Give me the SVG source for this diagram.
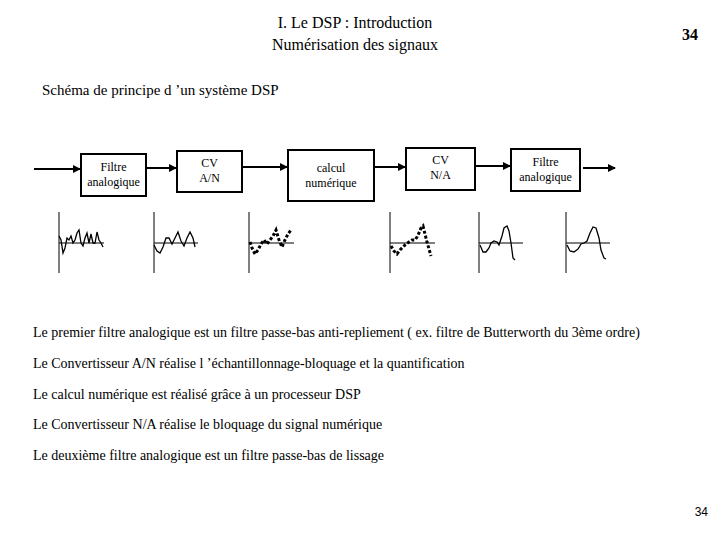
<svg xmlns="http://www.w3.org/2000/svg" width="720" height="540" viewBox="0 0 720 540">
<style>
.t{font-family:"Liberation Serif",serif;fill:#000}
.box{fill:#fff;stroke:#000;stroke-width:2}
.c{stroke:#000;stroke-width:2;fill:none}
.ax{stroke:#000;stroke-width:1;fill:none}
.w{stroke:#000;stroke-width:1.3;fill:none}
.wd{stroke:#000;stroke-width:3;fill:none;stroke-dasharray:3 2}
</style>
<defs><marker id="a" markerWidth="8" markerHeight="8" refX="7" refY="4" orient="auto" markerUnits="userSpaceOnUse"><path d="M0,0 L8,4 L0,8z" fill="#000"/></marker></defs>
<text class="t" x="355" y="28" font-size="16" text-anchor="middle">I. Le DSP : Introduction</text>
<text class="t" x="355" y="50" font-size="16" text-anchor="middle">Numérisation des signaux</text>
<text class="t" x="690" y="40" font-size="16" font-weight="bold" text-anchor="middle">34</text>
<text class="t" x="42" y="95" font-size="15">Schéma de principe d ’un système DSP</text>
<g id="connectors">
<line class="c" x1="34" y1="169" x2="80" y2="169" marker-end="url(#a)"/>
<line class="c" x1="146" y1="168" x2="176" y2="168" marker-end="url(#a)"/>
<line class="c" x1="242" y1="167" x2="287" y2="167" marker-end="url(#a)"/>
<line class="c" x1="374" y1="167" x2="405" y2="167" marker-end="url(#a)"/>
<line class="c" x1="475" y1="166" x2="510" y2="166" marker-end="url(#a)"/>
<line class="c" x1="583" y1="168" x2="615" y2="168" marker-end="url(#a)"/>
</g>
<g id="n1"><rect class="box" x="81" y="154" width="65" height="42"/><text class="t" x="113.5" y="171" font-size="12" text-anchor="middle">Filtre</text><text class="t" x="113.5" y="186" font-size="12" text-anchor="middle">analogique</text></g>
<g id="n2"><rect class="box" x="177" y="151" width="65" height="41"/><text class="t" x="209.5" y="167" font-size="12" text-anchor="middle">CV</text><text class="t" x="209.5" y="182" font-size="12" text-anchor="middle">A/N</text></g>
<g id="n3"><rect class="box" x="288" y="150" width="86" height="51"/><text class="t" x="331" y="172" font-size="12" text-anchor="middle">calcul</text><text class="t" x="331" y="187" font-size="12" text-anchor="middle">numérique</text></g>
<g id="n4"><rect class="box" x="406" y="148" width="69" height="42"/><text class="t" x="440.5" y="164" font-size="12" text-anchor="middle">CV</text><text class="t" x="440.5" y="179" font-size="12" text-anchor="middle">N/A</text></g>
<g id="n5"><rect class="box" x="511" y="149" width="69" height="42"/><text class="t" x="545.5" y="166" font-size="12" text-anchor="middle">Filtre</text><text class="t" x="545.5" y="181" font-size="12" text-anchor="middle">analogique</text></g>
<g id="charts">
<path class="ax" d="M59,212V273M59,243H104"/>
<polyline class="w" points="59,236 61,240 63,253 65,248 67,238 69,240 71,236 73,243 75,240 77,233 79,230 81,243 83,246 85,238 87,233 89,243 91,234 93,243 95,243 97,232 99,240 101,243 103,247"/>
<path class="ax" d="M154,212V273M154,243H198"/>
<polyline class="w" points="154,245 157,251 160,253 163,247 166,238 169,238 172,244 175,238 178,232 181,241 184,246 187,238 190,232 193,238 195,247"/>
<path class="ax" d="M249,212V273M249,243H294"/>
<polyline class="wd" points="250,242 252,248 255,254 258,250 261,244 264,240 267,244 270,240 273,236 276,230 279,240 282,247 285,240 288,234 291,230"/>
<path class="ax" d="M390,212V273M390,243H435"/>
<polyline class="wd" points="391,246 394,251 397,254 400,250 403,247 406,244 409,242 412,240 415,240 417,237 419,233 421,228 423,226 425,234 427,242 429,249 431,256"/>
<path class="ax" d="M479,212V273M479,243H523"/>
<polyline class="w" points="480,245 483,252 486,252 489,248 491,243 494,241 497,242 499,245 502,236 504,228 507,226 509,231 511,243 513,258 515,260"/>
<path class="ax" d="M566,212V273M566,243H610"/>
<polyline class="w" points="567,245 570,251 574,252 578,249 581,244 584,243 587,241 590,233 593,227 596,228 599,238 601,250 604,258 606,259"/>
</g>
<text class="t" x="33" y="337" font-size="14">Le premier filtre analogique est un filtre passe-bas anti-repliement ( ex. filtre de Butterworth du 3ème ordre)</text>
<text class="t" x="33" y="368" font-size="14">Le Convertisseur A/N réalise l ’échantillonnage-bloquage et la quantification</text>
<text class="t" x="33" y="399" font-size="14">Le calcul numérique est réalisé grâce à un processeur DSP</text>
<text class="t" x="33" y="429" font-size="14">Le Convertisseur N/A réalise le bloquage du signal numérique</text>
<text class="t" x="33" y="460" font-size="14">Le deuxième filtre analogique est un filtre  passe-bas de lissage</text>
<text x="708" y="516" font-size="12" text-anchor="end" font-family="Liberation Sans,sans-serif">34</text>
</svg>
